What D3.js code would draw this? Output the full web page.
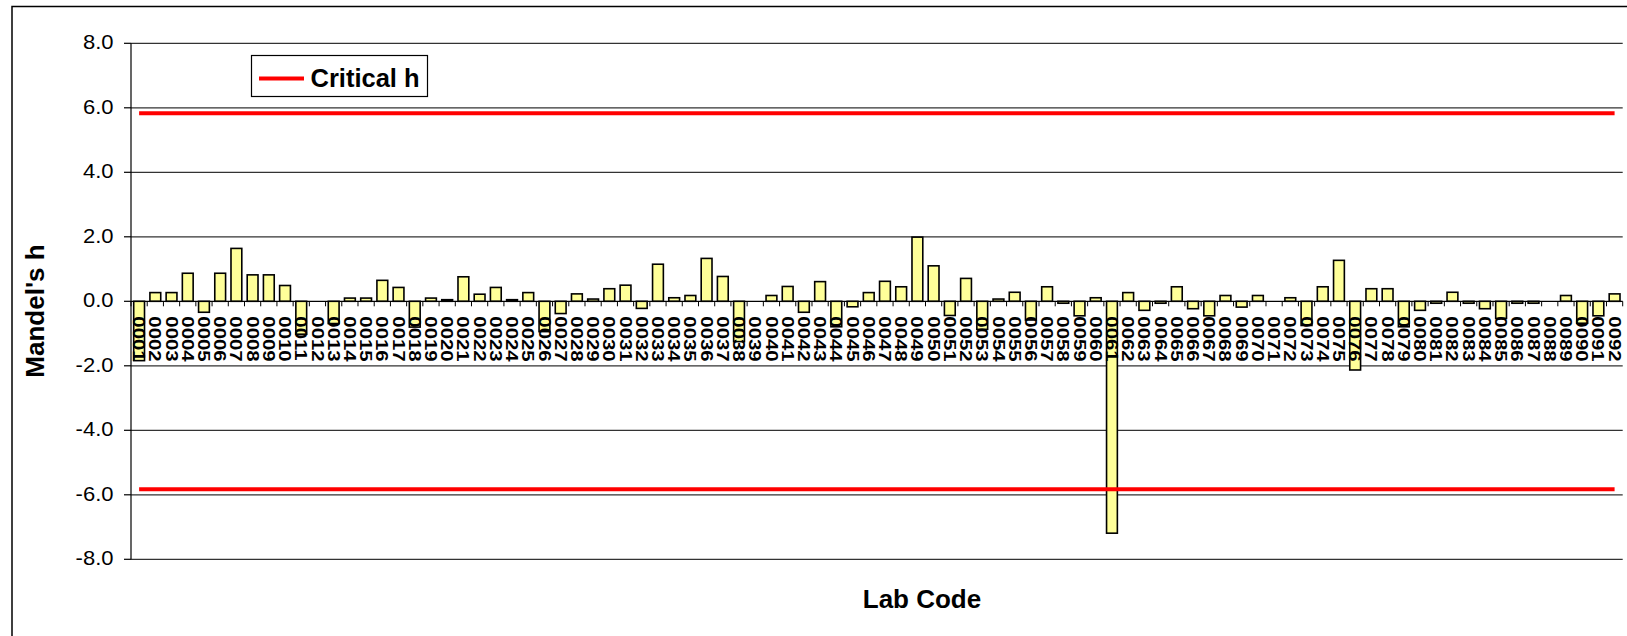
<!DOCTYPE html>
<html>
<head>
<meta charset="utf-8">
<script src="https://cdn.jsdelivr.net/npm/d3@7"></script>
<style>
  html, body { margin: 0; padding: 0; background: #fff; }
  svg { display: block; }
  text { font-family: "Liberation Sans", Arial, sans-serif; fill: #000; }
</style>
</head>
<body>
<svg id="chart" width="1627" height="636"></svg>
<script>
// Lab codes 0001..0092
const labCodes = [
  "0001","0002","0003","0004","0005","0006","0007","0008","0009","0010",
  "0011","0012","0013","0014","0015","0016","0017","0018","0019","0020",
  "0021","0022","0023","0024","0025","0026","0027","0028","0029","0030",
  "0031","0032","0033","0034","0035","0036","0037","0038","0039","0040",
  "0041","0042","0043","0044","0045","0046","0047","0048","0049","0050",
  "0051","0052","0053","0054","0055","0056","0057","0058","0059","0060",
  "0061","0062","0063","0064","0065","0066","0067","0068","0069","0070",
  "0071","0072","0073","0074","0075","0076","0077","0078","0079","0080",
  "0081","0082","0083","0084","0085","0086","0087","0088","0089","0090",
  "0091","0092"
];

// Mandel's h per lab (null = no result)
const mandelH = [
  -1.84, 0.27, 0.27, 0.87, -0.34, 0.87, 1.64, 0.82, 0.82, 0.49,
  -1.02, null, -0.69, 0.10, 0.10, 0.65, 0.43, -0.80, 0.10, 0.05,
  0.76, 0.22, 0.43, 0.05, 0.27, -0.94, -0.38, 0.23, 0.07, 0.39,
  0.50, -0.22, 1.15, 0.11, 0.18, 1.33, 0.77, -1.25, null, 0.18,
  0.46, -0.34, 0.61, -0.79, -0.17, 0.27, 0.62, 0.45, 1.99, 1.10,
  -0.44, 0.71, -0.87, 0.07, 0.28, -0.58, 0.45, -0.06, -0.45, 0.11,
  -7.19, 0.27, -0.28, -0.06, 0.45, -0.23, -0.45, 0.18, -0.18, 0.18,
  null, 0.11, -0.75, 0.45, 1.27, -2.13, 0.39, 0.39, -0.79, -0.28,
  -0.06, 0.28, -0.06, -0.23, -0.53, -0.06, -0.06, null, 0.18, -0.68,
  -0.45, 0.23
];

// Critical h limits (upper and lower)
const criticalH = [5.83, -5.83];

// Y axis ticks
const yTicks = [8, 6, 4, 2, 0, -2, -4, -6, -8];

const svg = d3.select("#chart");

const plot = { left: 131, right: 1622.7, top: 43.3, bottom: 559.3 };

const x = d3.scaleBand()
  .domain(labCodes)
  .range([plot.left, plot.right])
  .paddingInner(1 / 3)
  .paddingOuter(1 / 6);

const y = d3.scaleLinear()
  .domain([-8, 8])
  .range([plot.bottom, plot.top]);

// tick text with a plain hyphen for negatives
const fmt = d => d.toFixed(1);

// outer chart frame
svg.append("rect")
  .attr("x", 12).attr("y", 6.5)
  .attr("width", 1640).attr("height", 660)
  .attr("fill", "none").attr("stroke", "#000").attr("stroke-width", 1.5);

// horizontal gridlines
svg.append("g")
  .selectAll("line")
  .data(yTicks.filter(d => d !== 0))
  .join("line")
  .attr("x1", plot.left).attr("x2", plot.right)
  .attr("y1", d => y(d)).attr("y2", d => y(d))
  .attr("stroke", "#333").attr("stroke-width", 1.2);

// bars
const bars = labCodes.map((c, i) => ({ code: c, v: mandelH[i] })).filter(d => d.v !== null);
svg.append("g")
  .selectAll("rect")
  .data(bars)
  .join("rect")
  .attr("x", d => x(d.code))
  .attr("width", x.bandwidth())
  .attr("y", d => y(Math.max(0, d.v)))
  .attr("height", d => Math.abs(y(d.v) - y(0)))
  .attr("fill", "#FFFF99")
  .attr("stroke", "#000")
  .attr("stroke-width", 1.6);

// y axis
const yAxis = svg.append("g");
yAxis.append("line")
  .attr("x1", plot.left).attr("x2", plot.left)
  .attr("y1", plot.top).attr("y2", plot.bottom)
  .attr("stroke", "#000").attr("stroke-width", 1.2);
yAxis.selectAll("line.tick")
  .data(yTicks)
  .join("line")
  .attr("class", "tick")
  .attr("x1", plot.left - 7).attr("x2", plot.left)
  .attr("y1", d => y(d)).attr("y2", d => y(d))
  .attr("stroke", "#000").attr("stroke-width", 1.2);
yAxis.selectAll("text")
  .data(yTicks)
  .join("text")
  .attr("transform", d => `translate(113.5,${y(d)}) scale(1.1,1)`)
  .attr("text-anchor", "end")
  .attr("dy", "0.3em")
  .attr("font-size", 20)
  .text(fmt);

// x axis at zero with category tick marks
const xAxis = svg.append("g");
xAxis.append("line")
  .attr("x1", plot.left).attr("x2", plot.right)
  .attr("y1", y(0)).attr("y2", y(0))
  .attr("stroke", "#000").attr("stroke-width", 1.2);
const step = x.step();
xAxis.selectAll("line.tick")
  .data(d3.range(labCodes.length + 1))
  .join("line")
  .attr("class", "tick")
  .attr("x1", i => plot.left + i * step).attr("x2", i => plot.left + i * step)
  .attr("y1", y(0)).attr("y2", y(0) + 5)
  .attr("stroke", "#000").attr("stroke-width", 1);

// category labels, rotated to read downward
xAxis.selectAll("text")
  .data(labCodes)
  .join("text")
  .attr("transform", d => `translate(${x(d) + x.bandwidth() / 2},${y(0) + 15}) rotate(90) scale(1.2,1)`)
  .attr("dy", "0.35em")
  .attr("font-size", 17)
  .attr("font-weight", "bold")
  .text(d => d);

// critical h lines across category centres
const line = d3.line().x(d => d[0]).y(d => d[1]);
const first = labCodes[0], last = labCodes[labCodes.length - 1];
svg.append("g")
  .selectAll("path")
  .data(criticalH)
  .join("path")
  .attr("d", h => line([
    [x(first) + x.bandwidth() / 2, y(h)],
    [x(last) + x.bandwidth() / 2, y(h)]
  ]))
  .attr("fill", "none")
  .attr("stroke", "#FF0000")
  .attr("stroke-width", 4);

// axis titles
svg.append("text")
  .attr("transform", `translate(44,311) rotate(-90)`)
  .attr("text-anchor", "middle")
  .attr("font-size", 26)
  .attr("font-weight", "bold")
  .text("Mandel's h");

svg.append("text")
  .attr("x", 922).attr("y", 607.5)
  .attr("text-anchor", "middle")
  .attr("font-size", 26)
  .attr("font-weight", "bold")
  .text("Lab Code");

// legend
const legend = svg.append("g");
legend.append("rect")
  .attr("x", 251.5).attr("y", 55.5)
  .attr("width", 176).attr("height", 41)
  .attr("fill", "#fff").attr("stroke", "#000").attr("stroke-width", 1.2);
legend.append("line")
  .attr("x1", 259).attr("x2", 304)
  .attr("y1", 78.5).attr("y2", 78.5)
  .attr("stroke", "#FF0000").attr("stroke-width", 4);
legend.append("text")
  .attr("x", 310.5).attr("y", 87.3)
  .attr("font-size", 25.5)
  .attr("font-weight", "bold")
  .text("Critical h");
</script>
</body>
</html>
